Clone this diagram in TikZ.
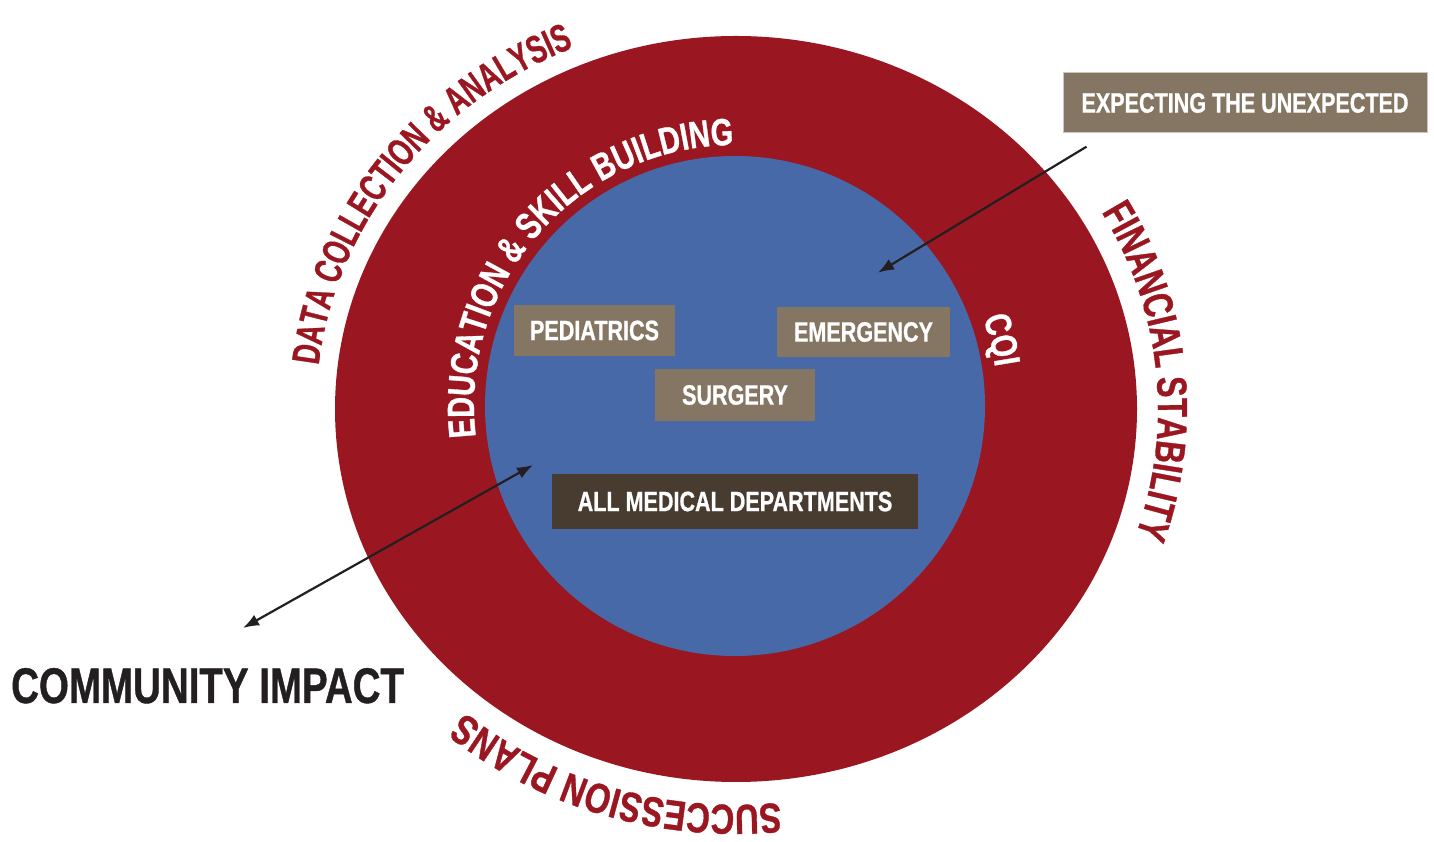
\documentclass[tikz,border=0pt]{standalone}
\usepackage{fontspec}
\setmainfont{Liberation Sans}[FakeStretch=0.77, BoldFeatures={FakeBold=0.8}]
\usepackage{tikz}
\usetikzlibrary{arrows.meta}
\tikzset{>={Latex[width=12pt,length=16pt]}}
\definecolor{ringred}{HTML}{9A1620}
\definecolor{coreblue}{HTML}{4769A8}
\definecolor{taupe}{HTML}{857663}
\definecolor{darkbrown}{HTML}{483B30}
\definecolor{inkblack}{HTML}{231F20}
\definecolor{boxedge}{HTML}{CDC6BE}
\newcommand{\boxfont}{\bfseries\fontsize{28}{30}\selectfont}
\newcommand{\curvefont}[1]{\bfseries\fontsize{#1}{#1}\selectfont}
\newcommand{\arcstretch}{0.77}
% letters one by one along an arc (clockwise), baseline on the arc;
% each entry is letter/advance in em
\newcommand{\arcletters}[9]{%
  \foreach \ch/\chem [count=\i, remember=\arcNext as \arcNow (initially #6)] in {#9} {%
    \pgfmathsetmacro\arcSquash{\arcstretch/0.77}%
    \pgfmathsetmacro\arcHalf{0.5*\chem*#8*\arcstretch}%
    \pgfmathsetmacro\arcSpeed{100*sqrt((#4/100*sin(\arcNow))^2+(#5/100*cos(\arcNow))^2)}%
    \pgfmathsetmacro\arcMid{\arcNow-\arcHalf/\arcSpeed*57.29578}%
    \pgfmathsetmacro\arcNext{\arcNow-2*\arcHalf/\arcSpeed*57.29578}%
    \pgfmathsetmacro\arcRot{atan2(-#5*cos(\arcMid),#4*sin(\arcMid))}%
    \pgfmathsetmacro\arcX{#2+#4*cos(\arcMid)}%
    \pgfmathsetmacro\arcY{#3+#5*sin(\arcMid)}%
    \node[#7, font=\curvefont{#8}, rotate=\arcRot, xscale=\arcSquash, anchor=base] (#1\i) at (\arcX,\arcY) {\ch};%
  }%
}
\tikzset{
  dept/.style={fill=taupe, text=white, inner sep=0pt, font=\boxfont},
  outerword/.style={text=ringred, inner sep=0pt},
  innerword/.style={text=white, inner sep=0pt}
}

\begin{document}
\begin{tikzpicture}[x=1pt, y=1pt]
    \useasboundingbox (0,0) rectangle (1434,842);
    \coordinate (Ring) at (736,433);
    \coordinate (Core) at (735,436);
    \fill[ringred] (Ring) ellipse [x radius=401, y radius=373];
    \fill[coreblue] (Core) circle [radius=250];

    \renewcommand{\arcstretch}{0.69}
    \arcletters{data}{736}{433}{420}{392}{173.6}{outerword}{39}{D/.722,A/.722,T/.611,A/.722,~/.278,C/.722,O/.778,L/.611,L/.611,E/.667,C/.722,T/.611,I/.278,O/.778,N/.722,~/.278,\&/.722,~/.278,A/.722,N/.722,A/.722,L/.611,Y/.667,S/.667,I/.278,S/.667}
    \renewcommand{\arcstretch}{0.74}
    \arcletters{fin}{736}{433}{422}{394}{30}{outerword}{42}{F/.611,I/.278,N/.722,A/.722,N/.722,C/.722,I/.278,A/.722,L/.611,~/.278,S/.667,T/.611,A/.722,B/.722,I/.278,L/.611,I/.278,T/.611,Y/.667}
    \renewcommand{\arcstretch}{0.78}
    \arcletters{succ}{736}{433}{422}{396}{-84}{outerword}{42}{S/.667,U/.722,C/.722,C/.722,E/.667,S/.667,S/.667,I/.278,O/.778,N/.722,~/.278,P/.667,L/.611,A/.722,N/.722,S/.667}
    \renewcommand{\arcstretch}{0.76}
    \arcletters{edu}{735}{436}{261}{261}{186.8}{innerword}{38}{E/.667,D/.722,U/.722,C/.722,A/.722,T/.611,I/.278,O/.778,N/.722,~/.278,\&/.722,~/.278,S/.667,K/.722,I/.278,L/.611,L/.611,~/.278,B/.722,U/.722,I/.278,L/.611,D/.722,I/.278,N/.722,G/.778}
    \renewcommand{\arcstretch}{0.77}
    \arcletters{cqi}{735}{436}{263}{263}{19.5}{innerword}{37}{C/.722,Q/.778,I/.278}

    \node[dept, minimum width=161, minimum height=51] (Ped) at (594.5,511.5) {PEDIATRICS};
    \node[dept, minimum width=173, minimum height=50] (Emerg) at (863.5,510) {EMERGENCY};
    \node[dept, minimum width=160, minimum height=52] (Surg) at (735,447) {SURGERY};
    \node[dept, fill=darkbrown, minimum width=366, minimum height=55] (AllMed) at (735,340.5) {ALL MEDICAL DEPARTMENTS};
    \node[dept, draw=boxedge, line width=1pt, minimum width=364, minimum height=60] (Expect) at (1245,739) {EXPECTING THE UNEXPECTED};
    \node[anchor=base west, inner sep=0pt, text=inkblack, font=\bfseries\fontsize{50}{50}\selectfont] (Community) at (11,139) {COMMUNITY IMPACT};

    \coordinate (ExpTail) at (1086.5,695.3);
    \coordinate (ExpTip) at (878,569.3);
    \coordinate (ComLeft) at (243,214);
    \coordinate (ComRight) at (533,377);
    \draw[->, line width=2.2pt, inkblack] (ExpTail) -- (ExpTip);
    \draw[<->, line width=2.2pt, inkblack] (ComLeft) -- (ComRight);
\end{tikzpicture}
\end{document}
